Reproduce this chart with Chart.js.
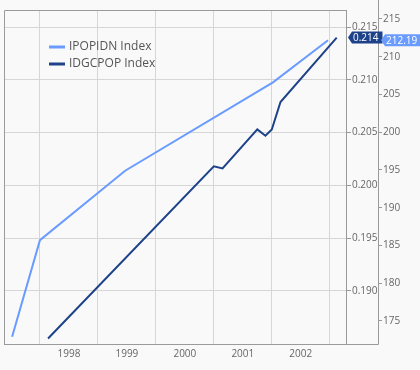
<!doctype html>
<html lang="en">
<head>
    <meta charset="utf-8">
    <title>IPOPIDN / IDGCPOP</title>
    <style>
        html, body { margin: 0; padding: 0; background: #f9f9f9; }
        #wrap { width: 420px; height: 370px; }
    </style>
</head>
<body>
    <div id="wrap"><canvas id="chart" width="420" height="370"></canvas></div>

    <script src="https://cdn.jsdelivr.net/npm/chart.js"></script>
    <script>
        // data (x = fractional year)
        const ipopDates = [1997.52, 1998.0, 1999.47, 2002.02, 2002.97];
        const ipopValues = [172.9, 185.7, 194.9, 206.6, 212.19];

        const idgcDates = [1998.14, 2001.0, 2001.15, 2001.75, 2001.89, 2002.0, 2002.15, 2003.12];
        const idgcValues = [0.1855, 0.2018, 0.2016, 0.2053, 0.2047, 0.2053, 0.2079, 0.214];

        const seriesNames = ['IPOPIDN Index', 'IDGCPOP Index'];
        const seriesColors = ['#6a9bff', '#1d428a'];

        const gridColor = '#d6d6d6';
        const axisColor = '#9a9a9a';
        const textColor = '#666';
        const fontFamily = '"Open Sans", sans-serif';

        function toPoints(xs, ys) {
            return xs.map((x, i) => ({ x: x, y: ys[i] }));
        }

        // legend drawn inside the plot, top left
        const legendPlugin = {
            id: 'innerLegend',
            afterDraw(chart) {
                const ctx = chart.ctx;
                ctx.save();
                ctx.font = '12px ' + fontFamily;
                ctx.textBaseline = 'middle';
                chart.data.datasets.forEach((ds, i) => {
                    const y = 47 + i * 17;
                    ctx.fillStyle = ds.borderColor;
                    ctx.fillRect(49, y - 1.5, 16, 3);
                    ctx.fillStyle = '#555';
                    ctx.fillText(ds.label, 69, y);
                });
                ctx.restore();
            }
        };

        // frame round the plot and the axis boxes, plus the last-value badges
        const framePlugin = {
            id: 'frame',
            beforeDatasetsDraw(chart) {
                const ctx = chart.ctx;
                const a = chart.chartArea;
                const outer = chart.scales.yOuter;
                ctx.save();
                ctx.strokeStyle = axisColor;
                ctx.lineWidth = 1;
                ctx.beginPath();
                ctx.moveTo(a.left + 0.5, a.bottom);
                ctx.lineTo(a.left + 0.5, a.top + 0.5);
                ctx.lineTo(a.right, a.top + 0.5);
                ctx.moveTo(a.left, a.bottom + 0.5);
                ctx.lineTo(outer.left + 0.5, a.bottom + 0.5);
                ctx.moveTo(outer.left + 0.5, 0);
                ctx.lineTo(outer.left + 0.5, a.bottom + 0.5);
                ctx.stroke();
                ctx.restore();
            },
            afterDraw(chart) {
                const ctx = chart.ctx;
                const inner = chart.scales.yInner;
                const outer = chart.scales.yOuter;
                const badge = (x, y, color, text) => {
                    const w = ctx.measureText(text).width + 9;
                    ctx.fillStyle = color;
                    ctx.beginPath();
                    ctx.moveTo(x, y);
                    ctx.lineTo(x + 4, y - 6);
                    ctx.lineTo(x + w, y - 6);
                    ctx.lineTo(x + w, y + 6);
                    ctx.lineTo(x + 4, y + 6);
                    ctx.closePath();
                    ctx.fill();
                    ctx.fillStyle = '#fff';
                    ctx.fillText(text, x + 5, y + 0.5);
                };
                ctx.save();
                ctx.font = '10px ' + fontFamily;
                ctx.textBaseline = 'middle';
                const lastIdgc = idgcValues[idgcValues.length - 1];
                const lastIpop = ipopValues[ipopValues.length - 1];
                badge(inner.left + 2, inner.getPixelForValue(lastIdgc), seriesColors[1], lastIdgc.toFixed(3));
                badge(outer.left + 3, outer.getPixelForValue(lastIpop), seriesColors[0], lastIpop.toFixed(2));
                ctx.restore();
            }
        };

        new Chart(document.getElementById('chart'), {
            type: 'line',
            data: {
                datasets: [{
                    label: seriesNames[0],
                    data: toPoints(ipopDates, ipopValues),
                    borderColor: seriesColors[0],
                    borderWidth: 2,
                    pointRadius: 0,
                    tension: 0,
                    yAxisID: 'yOuter'
                }, {
                    label: seriesNames[1],
                    data: toPoints(idgcDates, idgcValues),
                    borderColor: seriesColors[1],
                    borderWidth: 2,
                    pointRadius: 0,
                    tension: 0,
                    yAxisID: 'yInner'
                }]
            },
            options: {
                responsive: false,
                animation: false,
                layout: { padding: { left: 4, top: 10, right: 0, bottom: 0 } },
                plugins: {
                    legend: { display: false },
                    tooltip: { enabled: false }
                },
                scales: {
                    x: {
                        type: 'linear',
                        min: 1997.38,
                        max: 2003.28,
                        afterBuildTicks: s => { s.ticks = s.ticks.filter(t => Number.isInteger(t.value)); },
                        afterFit: s => { s.height = 26; },
                        grid: { color: gridColor, drawTicks: false },
                        border: { color: axisColor },
                        ticks: {
                            stepSize: 1,
                            includeBounds: false,
                            maxRotation: 0,
                            labelOffset: 29,
                            padding: 4,
                            color: textColor,
                            font: { family: fontFamily, size: 10 },
                            callback: v => (v >= 2003 ? '' : String(v))
                        }
                    },
                    yInner: {
                        type: 'linear',
                        position: 'right',
                        weight: 0,
                        min: 0.18498,
                        max: 0.21661,
                        afterBuildTicks: s => { s.ticks = s.ticks.filter(t => t.value > 0.1875 && t.value < 0.216); },
                        afterFit: s => { s.width = 32; },
                        grid: { color: gridColor, tickLength: 5, tickColor: axisColor },
                        border: { color: axisColor },
                        ticks: {
                            stepSize: 0.005,
                            includeBounds: false,
                            padding: 1,
                            color: textColor,
                            font: { family: fontFamily, size: 10 },
                            callback: v => v.toFixed(3)
                        }
                    },
                    yOuter: {
                        type: 'linear',
                        position: 'right',
                        weight: 1,
                        min: 171.95,
                        max: 216.19,
                        afterBuildTicks: s => { s.ticks = s.ticks.filter(t => t.value % 5 === 0); },
                        afterFit: s => { s.width = 42; },
                        grid: { drawOnChartArea: false, tickLength: 4, tickColor: axisColor },
                        border: { display: false },
                        ticks: {
                            stepSize: 5,
                            includeBounds: false,
                            padding: 1,
                            color: textColor,
                            font: { family: fontFamily, size: 10 },
                            callback: v => String(v)
                        }
                    }
                }
            },
            plugins: [legendPlugin, framePlugin]
        });
    </script>
</body>
</html>
